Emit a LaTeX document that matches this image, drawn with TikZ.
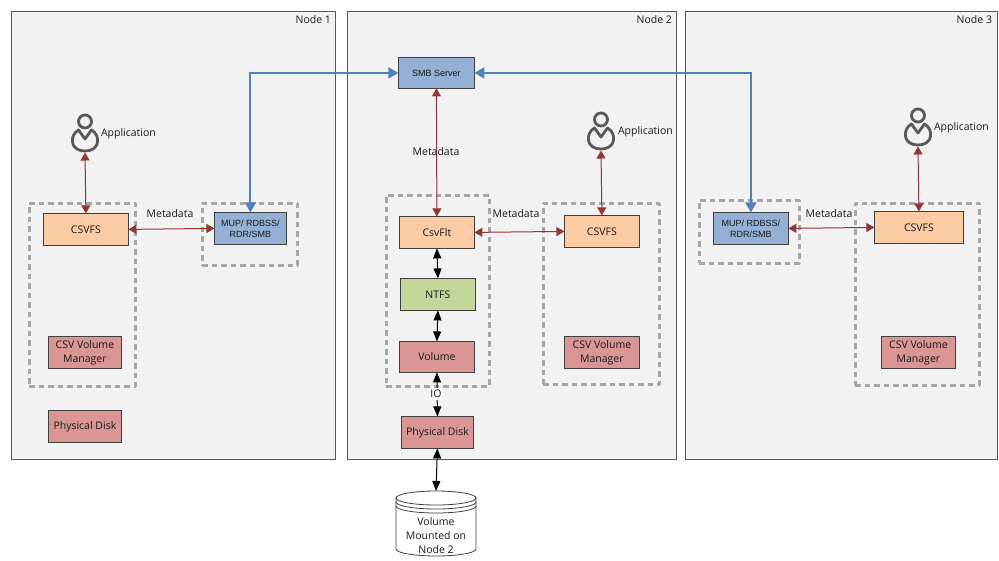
\documentclass[tikz,border=0pt]{standalone}
\usepackage{fontspec}
\setmainfont{Open Sans}
\newfontfamily\arialf{Liberation Sans}
\usetikzlibrary{arrows.meta}
\definecolor{panel}{HTML}{F2F2F2}
\definecolor{panelline}{HTML}{595959}
\definecolor{dashgrey}{HTML}{A6A6A6}
\definecolor{peach}{HTML}{FBCBA3}
\definecolor{steel}{HTML}{95B0D5}
\definecolor{leaf}{HTML}{C4D79B}
\definecolor{rose}{HTML}{D99694}
\definecolor{brick}{HTML}{943634}
\definecolor{linkblue}{HTML}{4F81BD}
\definecolor{icon}{HTML}{595959}
\tikzset{
  x=1pt,y=-1pt,
  txt/.style={font=\fontsize{10.5}{14}\selectfont,text=black!90,align=center,inner sep=0pt,outer sep=0pt},
  panelbox/.style={draw=panelline,fill=panel,line width=1pt,inner sep=0pt,outer sep=0pt,anchor=north west},
  dashbox/.style={draw=dashgrey,line width=2.8pt,dash pattern=on 5.5pt off 4pt,inner sep=0pt,anchor=north west,line join=round,xshift=-1pt,yshift=1pt},
  comp/.style={txt,draw=black!75,line width=1.1pt,anchor=north west,xshift=.4pt,yshift=-.4pt},
  arialtxt/.style={font=\arialf\fontsize{9}{11}\selectfont},
  redlink/.style={brick,line width=1pt,{Triangle[length=8pt,width=9pt]}-{Triangle[length=8pt,width=9pt]}},
  bluelink/.style={linkblue,line width=2pt,{Triangle[length=10pt,width=11pt]}-{Triangle[length=10pt,width=11pt]}},
  blacklink/.style={black,line width=1pt,{Triangle[length=10pt,width=8pt]}-{Triangle[length=10pt,width=8pt]}},
  apphit/.style={inner sep=0pt,outer sep=0pt,minimum width=28pt,minimum height=38pt},
}
\newcommand{\bx}[7][]{%
  \node[comp,fill=#2,minimum width=#5pt,minimum height=#6pt,#1] (#3) at #4 {#7};}
\newcommand{\personicon}[1]{%
  \begin{scope}[shift={(#1)},icon,line width=2.8pt]
    \draw (0,-12) circle[radius=6.5];
    \draw[line join=round] (-6.5,-3.5) .. controls (-11.5,-0.5) and (-13,4) .. (-12.5,8)
      .. controls (-12,15) and (-6,17.5) .. (0,17.5)
      .. controls (6,17.5) and (12,15) .. (12.5,8)
      .. controls (13,4) and (11.5,-0.5) .. (6.5,-3.5) -- (0,5.5) -- cycle;
  \end{scope}}
\begin{document}
\begin{tikzpicture}
\useasboundingbox (0,0) rectangle (999,560);
% panels
\node[panelbox,minimum width=324pt,minimum height=448pt] (n1) at (11,11) {};
\node[panelbox,minimum width=329pt,minimum height=448pt] (n2) at (347,11) {};
\node[panelbox,minimum width=312pt,minimum height=448pt] (n3) at (685,11) {};
\node[txt,anchor=north east] (n1t) at (331,15.5) {Node 1};
\node[txt,anchor=north east] (n2t) at (672,15.5) {Node 2};
\node[txt,anchor=north east] (n3t) at (992,15.5) {Node 3};
% dashed groups
\node[dashbox,minimum width=106pt,minimum height=183pt] (g1a) at (29,203) {};
\node[dashbox,minimum width=95pt,minimum height=62pt] (g1b) at (202,203) {};
\node[dashbox,minimum width=103pt,minimum height=191pt] (g2a) at (386,195) {};
\node[dashbox,minimum width=116pt,minimum height=181pt] (g2b) at (543,203) {};
\node[dashbox,minimum width=100pt,minimum height=63pt] (g3a) at (699,200) {};
\node[dashbox,minimum width=124pt,minimum height=182pt] (g3b) at (855,203) {};
% components
\bx{peach}{c1}{(43,213)}{85}{32}{CSVFS}
\bx[arialtxt]{steel}{m1}{(214,212)}{72}{32}{MUP/ RDBSS/\\RDR/SMB}
\bx{rose}{v1}{(48,336)}{73}{32}{CSV Volume\\Manager}
\bx{rose}{d1}{(48,410)}{73}{32}{Physical Disk}
\bx[arialtxt]{steel}{smb}{(398,57)}{76}{31}{SMB Server}
\bx{peach}{flt}{(399,216)}{75}{32}{CsvFlt}
\bx{leaf}{ntfs}{(400,278)}{75}{32}{NTFS}
\bx{rose}{vol}{(399,341)}{75}{31}{Volume}
\bx{rose}{d2}{(401,416)}{72}{32}{Physical Disk}
\bx{peach}{c2}{(564,215)}{75}{32}{CSVFS}
\bx{rose}{v2}{(564,336)}{75}{32}{CSV Volume\\Manager}
\bx[arialtxt]{steel}{m3}{(713,212)}{75}{32}{MUP/ RDBSS/\\RDR/SMB}
\bx{peach}{c3}{(874,211)}{89}{32}{CSVFS}
\bx{rose}{v3}{(881,336)}{74}{32}{CSV Volume\\Manager}
% application icons
\node[apphit] (a1) at (85,133.5) {};
\node[apphit] (a2) at (601,131.5) {};
\node[apphit] (a3) at (918,127.5) {};
\personicon{85,133.5}
\personicon{601,131.5}
\personicon{918,127.5}
\node[txt,anchor=west] (a1t) at (101,133.5) {Application};
\node[txt,anchor=west] (a2t) at (618,131.5) {Application};
\node[txt,anchor=west] (a3t) at (934,127.5) {Application};
% storage
\node[inner sep=0pt,outer sep=0pt,minimum width=80pt,minimum height=65pt] (st) at (436,523.5) {};
\draw[black!75,line width=0.8pt,fill=white]
  (396,498) arc[start angle=180,end angle=0,x radius=40,y radius=-7]
  -- (476,549) arc[start angle=0,end angle=-180,x radius=40,y radius=-7] -- cycle;
\draw[black!75,line width=0.8pt]
  (396,498) arc[start angle=180,end angle=360,x radius=40,y radius=-7]
  (396,502) arc[start angle=180,end angle=360,x radius=40,y radius=-7]
  (396,506) arc[start angle=180,end angle=360,x radius=40,y radius=-7];
\node[txt,anchor=center] (stt) at (436,536) {Volume\\Mounted on\\Node 2};
% connectors
\draw[bluelink] (smb.west) -| (m1.north);
\draw[bluelink] (smb.east) -| (m3.north);
\draw[redlink] (a1.south) -- (c1.north);
\draw[redlink] (a2.south) -- (c2.north);
\draw[redlink] (a3.south) -- (c3.north);
\draw[redlink] (c1.east) -- (m1.west);
\draw[redlink] (flt.east) -- (c2.west);
\draw[redlink] (m3.east) -- (c3.west);
\draw[redlink] (smb.south) -- (flt.north);
\draw[blacklink] (flt.south) -- (ntfs.north);
\draw[blacklink] (ntfs.south) -- (vol.north);
\draw[blacklink] (vol.south) -- (d2.north);
\draw[blacklink] (d2.south) -- (st.north);
% labels
\node[txt,anchor=center] (l1) at (170,214) {Metadata};
\node[txt,anchor=center] (l2) at (436,152) {Metadata};
\node[txt,anchor=center] (l3) at (516,214) {Metadata};
\node[txt,anchor=center] (l4) at (829,214) {Metadata};
\node[txt,anchor=center,fill=white,inner xsep=1pt,inner ysep=2pt] (l5) at (436,394) {IO};
\end{tikzpicture}
\end{document}
